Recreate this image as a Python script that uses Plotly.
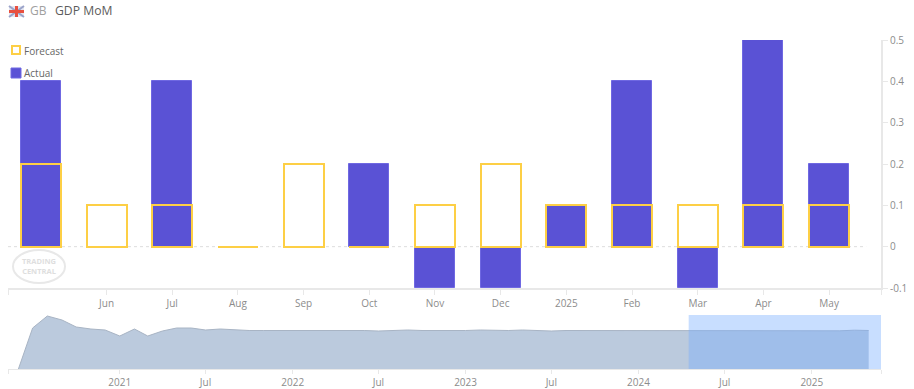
import plotly.graph_objects as go

W, H = 914, 389

# Main chart data
month_index = list(range(13))
month_labels = ["", "Jun", "Jul", "Aug", "Sep", "Oct", "Nov", "Dec", "2025", "Feb", "Mar", "Apr", "May"]
actual = [0.4, None, 0.4, None, None, 0.2, -0.1, -0.1, 0.1, 0.4, -0.1, 0.5, 0.2]
forecast = [0.2, 0.1, 0.1, 0, 0.2, 0, 0.1, 0.2, 0.1, 0.1, 0.1, 0.1, 0.1]
y_ticks = [-0.1, 0, 0.1, 0.2, 0.3, 0.4, 0.5]
y_labels = ["-0.1", "0", "0.1", "0.2", "0.3", "0.4", "0.5"]

# Navigator data (monthly, Jun 2020 - May 2025)
nav_values = [
    0, 41, 53, 49, 42, 40, 39, 33, 40, 33, 38, 41,
    41, 39, 40, 39, 38.5, 38.5, 38.5, 39, 38.5, 38.5, 39, 38.5,
    38.5, 38, 38.5, 39, 38.5, 38.5, 38, 38.5, 39, 38.5, 38.5, 39,
    38.5, 38, 38.5, 38.5, 38.5, 38, 38.5, 38.5, 38.5, 38, 38.5, 38.5,
    38, 38.5, 38.5, 38.5, 38, 38, 38, 38.5, 38.5, 38.2, 38.8, 38.5,
]
nav_dates = [f"{2020 + (5 + i) // 12}-{(5 + i) % 12 + 1:02d}-01" for i in range(len(nav_values))]
nav_ticks = ["2021-01-01", "2021-07-01", "2022-01-01", "2022-07-01", "2023-01-01",
             "2023-07-01", "2024-01-01", "2024-07-01", "2025-01-01"]
nav_labels = ["2021", "Jul", "2022", "Jul", "2023", "Jul", "2024", "Jul", "2025"]
nav_start, nav_end = "2020-05-10", "2025-05-27"
selection_start = "2024-04-16"

GRID = "#e8e8e8"
TICK = "#8c8c8c"
FONT = "Open Sans"
PURPLE = "#5a52d5"
YELLOW = "#fdcf45"


def px(x):
    return x / W


def py(y):
    return 1 - y / H


fig = go.Figure()
fig.add_bar(x=month_index, y=actual, name="Actual", width=0.61,
            marker=dict(color=PURPLE, line=dict(color="#6f68e2", width=1)),
            xaxis="x", yaxis="y", showlegend=False)
fig.add_bar(x=month_index, y=forecast, name="Forecast", width=0.61,
            marker=dict(color="rgba(0,0,0,0)", line=dict(color=YELLOW, width=2)),
            xaxis="x", yaxis="y", showlegend=False)
fig.add_scatter(x=nav_dates, y=nav_values, mode="lines", fill="tozeroy", fillcolor="#bbcadd",
                line=dict(color="#a8b4c4", width=1), xaxis="x2", yaxis="y2",
                showlegend=False, hoverinfo="skip")

shapes = []
# zero line
shapes.append(dict(type="line", xref="x domain", yref="y", x0=0, x1=0.983, y0=0, y1=0,
                   line=dict(color="#dddddd", width=1, dash="dot"), layer="below"))
# navigator selection
shapes.append(dict(type="rect", xref="x2", yref="y2 domain", x0=selection_start, x1=nav_end, y0=0, y1=1,
                   fillcolor="rgba(117,172,255,0.4)", line=dict(width=0), layer="above"))


def deco(kind, x0, y0, x1, y1, **kw):
    shapes.append(dict(type=kind, xref="paper", yref="paper", x0=px(x0), x1=px(x1),
                       y0=py(y0), y1=py(y1), **kw))


# flag
deco("rect", 9, 6, 24, 17, fillcolor="#e4e5f0", line=dict(width=0))
deco("line", 9, 6, 24, 17, line=dict(color="#9aa3c9", width=2))
deco("line", 9, 17, 24, 6, line=dict(color="#9aa3c9", width=2))
deco("line", 16.5, 6, 16.5, 17, line=dict(color="#e8503f", width=3))
deco("line", 9, 11.5, 24, 11.5, line=dict(color="#e8503f", width=3))
# legend swatches
deco("rect", 12, 46, 20, 54, fillcolor="#ffffff", line=dict(color=YELLOW, width=2))
deco("rect", 11, 68, 21, 78, fillcolor=PURPLE, line=dict(color="#6f68e2", width=1))
# watermark
deco("circle", 13, 250, 65, 283, fillcolor="rgba(0,0,0,0)", line=dict(color="#e8e8e8", width=2))

annotations = []


def text(x, y, s, size, color, anchor="left", **kw):
    annotations.append(dict(x=px(x), y=py(y), xref="paper", yref="paper", text=s, showarrow=False,
                            xanchor=anchor, yanchor="middle", font=dict(family=FONT, size=size, color=color),
                            **kw))


text(28, 11, "GB", 12, "#a0a0a0")
text(52.5, 11, "GDP MoM", 12.2, "#5c5c5c")
text(22, 50.5, "Forecast", 10, "#666666")
text(22, 73, "Actual", 10, "#666666")
text(39, 266, "<b>TRADING<br>CENTRAL</b>", 7.5, "#dedede", anchor="center")

fig.update_layout(
    width=W, height=H, autosize=False,
    margin=dict(l=0, r=0, t=0, b=0),
    paper_bgcolor="white", plot_bgcolor="white",
    barmode="overlay", bargap=0,
    shapes=shapes, annotations=annotations,
    font=dict(family=FONT, size=10, color=TICK),
    xaxis=dict(domain=[px(8), px(881)], range=[-0.5, 12.79], automargin=False,
               tickmode="array", tickvals=[-0.5] + month_index[1:] + [12.79], ticktext=[""] + month_labels[1:] + [""],
               ticks="outside", ticklen=5, tickcolor=GRID, tickwidth=1,
               showline=True, linecolor=GRID, linewidth=2, showgrid=False, zeroline=False,
               tickfont=dict(size=10, color=TICK), anchor="y", fixedrange=True),
    yaxis=dict(domain=[py(288), py(40)], range=[-0.1, 0.5], side="right", anchor="x", automargin=False,
               tickmode="array", tickvals=y_ticks, ticktext=y_labels,
               ticks="outside", ticklen=5, tickcolor=GRID, tickwidth=1,
               showline=True, linecolor=GRID, linewidth=2, showgrid=False, zeroline=False,
               tickfont=dict(size=10, color=TICK), fixedrange=True),
    xaxis2=dict(domain=[px(8), px(881)], range=[nav_start, nav_end], type="date", anchor="y2", automargin=False,
                tickmode="array", tickvals=[nav_start] + nav_ticks + [nav_end], ticktext=[""] + nav_labels + [""],
                ticks="outside", ticklen=4, tickcolor=GRID, tickwidth=1,
                showline=True, linecolor=GRID, linewidth=1, showgrid=False, zeroline=False,
                tickfont=dict(size=10, color=TICK), fixedrange=True),
    yaxis2=dict(domain=[py(369), py(315)], range=[0, 54], anchor="x2", visible=False, fixedrange=True, automargin=False),
    showlegend=False,
)

fig.write_html("out.html", config=dict(displayModeBar=False),
               post_script="document.body.style.margin='0';document.documentElement.style.overflow='hidden';")
